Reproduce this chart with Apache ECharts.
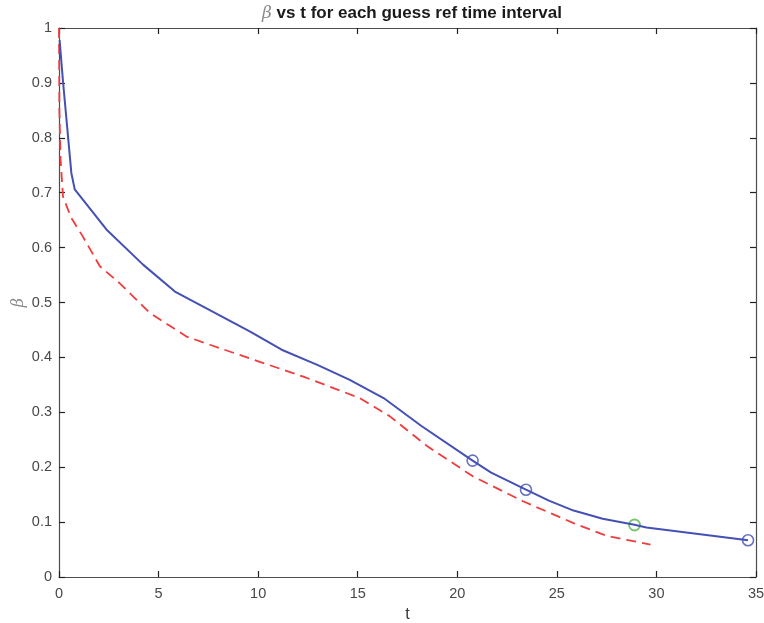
<!DOCTYPE html>
<html>
<head>
<meta charset="utf-8">
<script src="https://cdn.jsdelivr.net/npm/echarts@6/dist/echarts.min.js"></script>
<style>
  html, body { margin: 0; padding: 0; background: #fff; }
  #chart { width: 764px; height: 623px; }
</style>
</head>
<body>
<div id="chart"></div>
<script>
// beta(t) for the chosen reference interval (solid blue)
const betaT = [0.03, 0.2, 0.62, 0.79, 2.38, 4.22, 5.82, 7.83, 9.6, 11.18, 13.0, 14.6, 16.3, 18.2, 20.77, 21.7, 23.45, 24.6, 25.84, 27.3, 28.9, 29.5, 34.6];
const betaV = [0.978, 0.903, 0.736, 0.706, 0.633, 0.569, 0.520, 0.481, 0.447, 0.414, 0.386, 0.359, 0.326, 0.275, 0.212, 0.190, 0.159, 0.139, 0.121, 0.106, 0.095, 0.090, 0.067];

// reference beta(t) (dashed red)
const refT = [0, 0.02, 0.08, 0.2, 0.6, 1.2, 2.05, 3.05, 4.56, 6.4, 7.58, 9.75, 12.27, 15.1, 16.6, 18.5, 20.8, 23.3, 25.84, 27.5, 29.7];
const refV = [1.0, 0.85, 0.76, 0.693, 0.655, 0.62, 0.566, 0.535, 0.481, 0.438, 0.423, 0.396, 0.365, 0.326, 0.293, 0.238, 0.183, 0.138, 0.098, 0.075, 0.059];

// guess interval end points (blue circles) and the selected one (green circle)
const guessT = [20.77, 23.45, 34.6];
const guessV = [0.212, 0.159, 0.067];
const pickT = [28.9];
const pickV = [0.0947];

const zip = (a, b) => a.map((v, i) => [v, b[i]]);

const axisColor = '#4d4d4d';
const labelColor = '#484848';
const font = 'Liberation Sans, Arial, Helvetica, sans-serif';

const chart = echarts.init(document.getElementById('chart'), null, { renderer: 'canvas' });
chart.setOption({
  animation: false,
  backgroundColor: '#ffffff',
  title: {
    text: '{b|β} vs t for each guess ref time interval',
    left: 407,
    textAlign: 'center',
    top: 0,
    textStyle: {
      fontFamily: font,
      fontSize: 17,
      fontWeight: 'bold',
      color: '#1a1a1a',
      rich: {
        b: { fontFamily: 'DejaVu Serif, serif', fontStyle: 'italic', fontWeight: 'normal', fontSize: 17, color: '#8a8a8a' }
      }
    }
  },
  grid: { left: 59, right: 8, top: 28, bottom: 46, containLabel: false, outerBoundsMode: 'none' },
  xAxis: [{
    type: 'value', min: 0, max: 35, interval: 5, position: 'bottom',
    name: 't', nameLocation: 'middle', nameGap: 30,
    nameTextStyle: { fontFamily: font, fontSize: 16, color: '#333' },
    axisLine: { show: true, onZero: false, lineStyle: { color: axisColor, width: 1.2 } },
    axisTick: { inside: true, length: 6, lineStyle: { color: '#222', width: 1.2 } },
    axisLabel: { fontFamily: font, fontSize: 14.5, color: labelColor, margin: 9 },
    splitLine: { show: false }
  }, {
    type: 'value', min: 0, max: 35, interval: 5, position: 'top',
    axisLine: { show: true, onZero: false, lineStyle: { color: axisColor, width: 1.2 } },
    axisTick: { inside: true, length: 6, lineStyle: { color: '#222', width: 1.2 } },
    axisLabel: { show: false },
    splitLine: { show: false }
  }],
  yAxis: [{
    type: 'value', min: 0, max: 1, interval: 0.1, position: 'left',
    name: 'β', nameLocation: 'middle', nameGap: 32, nameRotate: 90, nameMoveOverlap: false,
    nameTextStyle: { fontFamily: 'DejaVu Serif, serif', fontStyle: 'italic', fontSize: 16, color: '#8a8a8a' },
    axisLine: { show: true, onZero: false, lineStyle: { color: axisColor, width: 1.2 } },
    axisTick: { inside: true, length: 6, lineStyle: { color: '#222', width: 1.2 } },
    axisLabel: { fontFamily: font, fontSize: 14.5, color: labelColor, margin: 7,
      formatter: v => (Math.round(v * 10) / 10).toString() },
    splitLine: { show: false }
  }, {
    type: 'value', min: 0, max: 1, interval: 0.1, position: 'right',
    axisLine: { show: true, onZero: false, lineStyle: { color: axisColor, width: 1.2 } },
    axisTick: { inside: true, length: 6, lineStyle: { color: '#222', width: 1.2 } },
    axisLabel: { show: false },
    splitLine: { show: false }
  }],
  series: [{
    name: 'ref', type: 'line', data: zip(refT, refV),
    showSymbol: false, smooth: false,
    lineStyle: { color: '#f03c3c', width: 1.8, type: [10, 6] }
  }, {
    name: 'beta', type: 'line', data: zip(betaT, betaV),
    showSymbol: false, smooth: false,
    lineStyle: { color: '#4450b4', width: 2 }
  }, {
    name: 'guess', type: 'scatter', data: zip(guessT, guessV),
    symbol: 'circle', symbolSize: 11,
    itemStyle: { color: 'rgba(255,255,255,0)', borderColor: '#4450b4', borderWidth: 1.6 }
  }, {
    name: 'pick', type: 'scatter', data: zip(pickT, pickV),
    symbol: 'circle', symbolSize: 11,
    itemStyle: { color: 'rgba(255,255,255,0)', borderColor: '#52b845', borderWidth: 1.8 }
  }]
});
</script>
</body>
</html>
